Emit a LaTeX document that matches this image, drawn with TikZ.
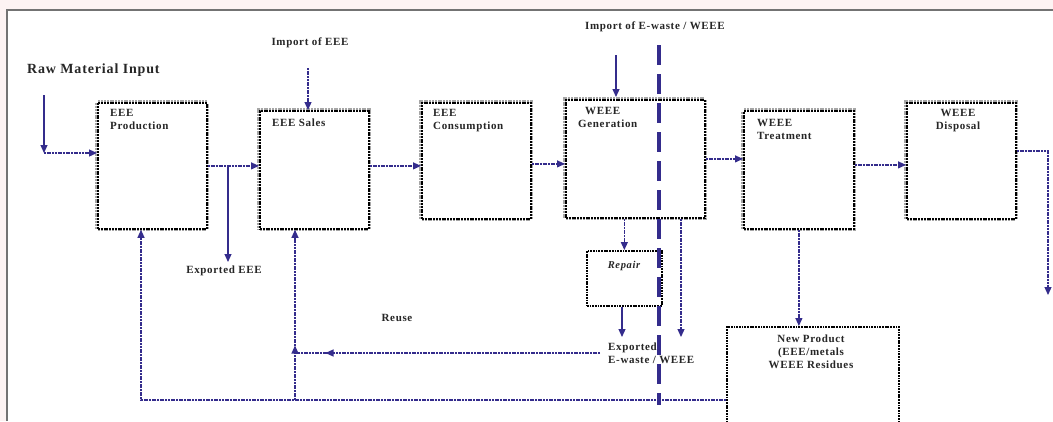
\documentclass[tikz,border=0pt]{standalone}
\usepackage{fontspec}
\setmainfont{Liberation Serif}
\newfontfamily\lbl[LetterSpace=6]{Liberation Serif}
\usetikzlibrary{arrows.meta,calc,decorations.markings}
\definecolor{flow}{RGB}{52,44,140}
\definecolor{pinkbg}{RGB}{253,243,243}
\begin{document}
\begin{tikzpicture}[x=1pt,y=-1pt,
  box/.style={anchor=north west,inner sep=0pt,fill=white,
    preaction={draw=black!35,line width=5pt},
    preaction={draw=black!70,line width=2.6pt},
    draw=black,line width=1.8pt,dash pattern=on 2pt off 0.8pt},
  thinbox/.style={anchor=north west,inner sep=0pt,fill=white,
    preaction={draw=black!45,line width=2pt},
    draw=black,line width=1.7pt,dash pattern=on 1.8pt off 0.9pt},
  txt/.style={font=\lbl\bfseries\fontsize{11}{13}\selectfont,inner sep=0pt,text=black!85},
  tip/.style={-{Triangle[length=8pt,width=7pt]}},
  flow/.style={draw=flow,line width=1.2pt,dash pattern=on 2pt off 0.7pt,tip},
  flowsolid/.style={draw=flow,line width=1.2pt,tip},
  line/.style={draw=flow,line width=1.2pt,dash pattern=on 2pt off 0.7pt},
  midarrow/.style={postaction={decorate},decoration={markings,
    mark=at position #1 with {\arrow{Triangle[length=8pt,width=7pt]}}}},
  barrier/.style={draw=flow,line width=4.5pt,dash pattern=on 20pt off 9pt}
]
\useasboundingbox (0,0) rectangle (1053,421);
\fill[pinkbg] (0,0) rectangle (1053,421);
\fill[white] (7,10) rectangle (1053,421);
\draw[black!55,line width=1.6pt] (7,421) -- (7,10) -- (1053,10);

% boxes
\node[box,minimum width=109pt,minimum height=126pt] (prod) at (97,102) {};
\node[box,minimum width=109pt,minimum height=118pt] (sales) at (259,110) {};
\node[box,minimum width=109pt,minimum height=116pt] (cons) at (421,102) {};
\node[box,minimum width=139pt,minimum height=118pt] (gen) at (565,99) {};
\node[box,minimum width=110pt,minimum height=118pt] (treat) at (743,110) {};
\node[box,minimum width=109pt,minimum height=116pt] (disp) at (906,102) {};
\node[thinbox,minimum width=75pt,minimum height=55pt] (rep) at (586,250) {};
\node[thinbox,minimum width=172pt,minimum height=110pt] (np) at (726,326) {};

% box texts
\node[txt,anchor=north west,align=left] (prodt) at (110,109) {EEE\\Production};
\node[txt,anchor=north west] (salest) at (272,119) {EEE Sales};
\node[txt,anchor=north west,align=left] (const) at (433,109) {EEE\\Consumption};
\node[txt,anchor=north west,align=left] (gent) at (578,107) {\hspace*{7pt}WEEE\\Generation};
\node[txt,anchor=north west,align=left] (treatt) at (757,119) {WEEE\\Treatment};
\node[txt,anchor=north,align=center] (dispt) at (958,109) {WEEE\\Disposal};
\node[txt,anchor=north,font=\lbl\bfseries\itshape\fontsize{10.5}{12}\selectfont] (rept) at (624,261) {Repair};
\node[txt,anchor=north,align=center] (npt) at (811,335) {New Product\\(EEE/metals\\WEEE Residues};

% free labels
\node[txt,anchor=west,font=\lbl\bfseries\fontsize{14}{16}\selectfont] (raw) at (27,70) {Raw Material Input};
\node[txt] (impeee) at (310,43) {Import of EEE};
\node[txt] (impw) at (655,27) {Import of E-waste / WEEE};
\node[txt] (expeee) at (224,271) {Exported EEE};
\node[txt] (reuse) at (397,318) {Reuse};
\node[txt,anchor=north west,align=left] (expw) at (608,343) {Exported\\E-waste / WEEE};

% coordinates
\coordinate (rawtop) at (44,95);
\coordinate (rawturn) at (44,153);
\coordinate (impa) at (308,68);
\coordinate (impb) at (616,55);
\coordinate (expend) at (228,262);
\coordinate (dispturn) at (1048,151);
\coordinate (dispend) at (1048,295);
\coordinate (botleft) at (141,400);
\coordinate (botmid) at (295,400);
\coordinate (reuseR) at (600,353);
\coordinate (reuseL) at (295,353);
\coordinate (repend) at (622,337);
\coordinate (gexend) at (681,337);
\coordinate (bartop) at (659,45);
\coordinate (barbot) at (659,405);

% flows
\draw[flowsolid] (rawtop) -- (rawturn);
\draw[flow] (rawturn) -- (rawturn -| prod.west);
\draw[flow] (prod.east) -- (prod.east -| sales.west);
\draw[flowsolid] (expend |- prod.east) -- (expend);
\draw[flow] (impa) -- (impa |- sales.north);
\draw[flow] (sales.east |- prod.east) -- (cons.west |- prod.east);
\draw[flow] ($(cons.east)+(0,3)$) -- ($(cons.east -| gen.west)+(0,3)$);
\draw[flowsolid] (impb) -- ($(impb |- gen.north)+(0,-2)$);
\draw[flow] (gen.east) -- (gen.east -| treat.west);
\draw[flow] ($(treat.east)+(0,-5)$) -- ($(treat.east -| disp.west)+(0,-5)$);
\draw[flow] (dispturn -| disp.east) -- (dispturn) -- (dispend);
\draw[flow] (treat.south) -- (treat.south |- np.north);
\draw[flow] (gen.south -| rep.north) -- (rep.north);
\draw[flowsolid] (rep.south -| repend) -- (repend);
\draw[flow] (gen.south -| gexend) -- (gexend);
\draw[flow] (botleft -| np.west) -- (botleft) -- (botleft |- prod.south);
\draw[flow,midarrow=0.32] (botmid) -- (botmid |- sales.south);
\draw[line,midarrow=0.9] (reuseR) -- (reuseL);

\draw[barrier] (bartop) -- (barbot);
\end{tikzpicture}
\end{document}
